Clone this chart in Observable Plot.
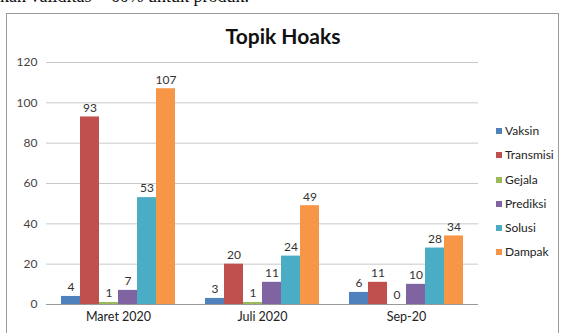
<!DOCTYPE html>
<html>
<head>
<meta charset="utf-8">
<script src="https://cdn.jsdelivr.net/npm/d3@7"></script>
<script src="https://cdn.jsdelivr.net/npm/@observablehq/plot@0.6"></script>
<style>
  html, body { margin: 0; padding: 0; background: #fff; }
  body { width: 566px; height: 333px; position: relative; overflow: hidden; font-family: Lato, "Open Sans", sans-serif; }
  #doc { position: absolute; left: 0; top: -14px; font-family: "Liberation Serif", serif; font-size: 18px; color: #111; white-space: nowrap; }
  #frame { position: absolute; left: 6px; top: 13px; width: 551px; height: 340px; border: 1px solid #9a9a9a; }
  #title { position: absolute; left: 0; width: 566px; top: 23px; text-align: center; font-weight: bold; font-size: 21px; color: #111; }
  #chart { position: absolute; left: 0; top: 0; }
  #legend { position: absolute; left: 496px; top: 123px; font-size: 12px; color: #222; }
  #legend div { height: 24.3px; line-height: 16px; white-space: nowrap; }
  #legend span.sw { display: inline-block; width: 6px; height: 6px; margin-right: 3px; vertical-align: 1px; }
</style>
</head>
<body>
<div id="doc">kan validitas &gt; 60% untuk produk.</div>
<div id="frame"></div>
<div id="chart"></div>
<div id="title">Topik Hoaks</div>
<div id="legend"></div>
<script>
const periods = ["Maret 2020", "Juli 2020", "Sep-20"];
const series = ["Vaksin", "Transmisi", "Gejala", "Prediksi", "Solusi", "Dampak"];
const colors = ["#4F81BD", "#C0504D", "#9BBB59", "#8064A2", "#4BACC6", "#F79646"];
const vaksin    = [4, 3, 6];
const transmisi = [93, 20, 11];
const gejala    = [1, 1, 0];
const prediksi  = [7, 11, 10];
const solusi    = [53, 24, 28];
const dampak    = [107, 49, 34];
const yTicks = [0, 20, 40, 60, 80, 100, 120];

const valuesBySeries = [vaksin, transmisi, gejala, prediksi, solusi, dampak];
const data = [];
periods.forEach((p, i) => {
  series.forEach((s, j) => data.push({period: p, series: s, value: valuesBySeries[j][i]}));
});

const chart = Plot.plot({
  width: 566,
  height: 333,
  marginLeft: 45,
  marginRight: 88,
  marginTop: 62,
  marginBottom: 29,
  style: {fontFamily: "Lato, 'Open Sans', sans-serif", background: "transparent"},
  fx: {domain: periods, padding: 0, label: null, axis: null},
  x: {domain: series, paddingInner: 0, paddingOuter: 0.75, axis: null},
  y: {domain: [0, 120], ticks: yTicks, label: null, axis: null},
  color: {domain: series, range: colors},
  marks: [
    Plot.gridY(yTicks, {stroke: "#c8c8c8", strokeOpacity: 1}),
    Plot.barY(data, {fx: "period", x: "series", y: "value", fill: "series"}),
    Plot.ruleY([0], {stroke: "#999"}),
    Plot.text(data, {fx: "period", x: "series", y: "value", text: "value", dy: -9, fontSize: 12, fill: "#333"}),
    Plot.axisY({ticks: yTicks, tickSize: 0, tickPadding: 9, fontSize: 12, fill: "#444", label: null}),
    Plot.axisFx({anchor: "bottom", tickSize: 0, tickPadding: 8, fontSize: 12.5, fill: "#222", label: null})
  ]
});
document.getElementById("chart").appendChild(chart);

const legend = document.getElementById("legend");
series.forEach((s, i) => {
  const row = document.createElement("div");
  row.innerHTML = `<span class="sw" style="background:${colors[i]}"></span>${s}`;
  legend.appendChild(row);
});
</script>
</body>
</html>
